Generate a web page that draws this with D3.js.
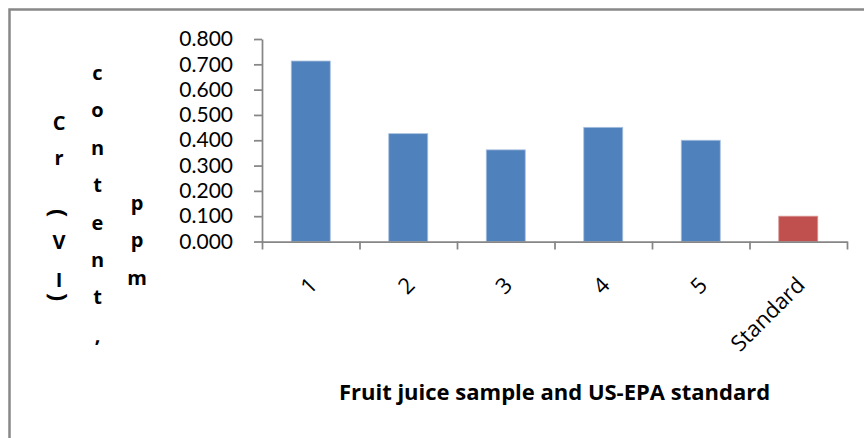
<!DOCTYPE html>
<html>
<head>
<meta charset="utf-8">
<script src="https://cdn.jsdelivr.net/npm/d3@7"></script>
<style>
  body { margin: 0; background: #fff; }
  svg { display: block; font-family: "Open Sans", sans-serif; }
</style>
</head>
<body>
<svg id="chart"></svg>
<script>
// data
const categories = ['1', '2', '3', '4', '5', 'Standard'];
const values = [0.713, 0.426, 0.362, 0.451, 0.400, 0.100];
const yTicks = [0, 0.1, 0.2, 0.3, 0.4, 0.5, 0.6, 0.7, 0.8];
const yTitleLines = ['Cr(VI)', 'content,', 'ppm'];
const xTitle = 'Fruit juice sample and US-EPA standard';

const width = 864;
const height = 438;
const plot = {left: 262, right: 847, top: 39, bottom: 241.5};
const axisColor = '#868686';

const svg = d3.select('#chart')
    .attr('width', width)
    .attr('height', height);

// chart frame (right and bottom edges fall outside the picture)
svg.append('rect')
    .attr('x', 9.5)
    .attr('y', 9.5)
    .attr('width', 900)
    .attr('height', 500)
    .attr('fill', 'none')
    .attr('stroke', '#888')
    .attr('stroke-width', 2.5);

// scales
const x = d3.scaleBand()
    .domain(categories)
    .range([plot.left, plot.right])
    .paddingInner(0.6)
    .paddingOuter(0.3);

const y = d3.scaleLinear()
    .domain([0, 0.8])
    .range([plot.bottom, plot.top]);

// bars
svg.selectAll('rect.bar')
    .data(categories)
    .enter()
    .append('rect')
    .attr('class', 'bar')
    .attr('x', d => x(d))
    .attr('y', (d, i) => y(values[i]))
    .attr('width', x.bandwidth())
    .attr('height', (d, i) => y(0) - y(values[i]))
    .attr('fill', d => d === 'Standard' ? '#C0504D' : '#4F81BD')
    .attr('stroke', d => d === 'Standard' ? '#d99694' : '#a7c0de')
    .attr('stroke-width', 0.8);

// Y axis
const yAxis = svg.append('g')
    .attr('transform', 'translate(' + plot.left + ',0)')
    .call(d3.axisLeft(y)
        .tickValues(yTicks)
        .tickFormat(d3.format('.3f'))
        .tickSize(8)
        .tickSizeOuter(0)
        .tickPadding(21));
yAxis.selectAll('path, line')
    .attr('stroke', axisColor)
    .attr('stroke-width', 1.75);
yAxis.selectAll('text')
    .attr('fill', '#000')
    .style('font-size', '21px')
    .style('font-family', 'Lato, sans-serif');

// X axis: ticks sit on the category boundaries
const xEdges = d3.scaleLinear()
    .domain([0, categories.length])
    .range([plot.left, plot.right]);
const xAxis = svg.append('g')
    .attr('transform', 'translate(0,' + plot.bottom + ')')
    .call(d3.axisBottom(xEdges)
        .tickValues(d3.range(categories.length + 1))
        .tickFormat('')
        .tickSize(8)
        .tickSizeOuter(0));
xAxis.selectAll('path, line')
    .attr('stroke', axisColor)
    .attr('stroke-width', 1.75);

// rotated category labels
const xLabels = svg.append('g')
    .attr('transform', 'translate(0,' + plot.bottom + ')')
    .call(d3.axisBottom(x).tickSize(0).tickPadding(0));
xLabels.select('.domain').remove();
xLabels.selectAll('text')
    .attr('fill', '#000')
    .attr('y', 0)
    .attr('dy', 0)
    .attr('transform', 'translate(8,45) rotate(-45)')
    .style('text-anchor', 'end')
    .style('font-size', '22px')
    .style('font-family', '"Open Sans", sans-serif');

// X title
svg.append('text')
    .attr('x', (plot.left + plot.right) / 2)
    .attr('y', 400)
    .attr('text-anchor', 'middle')
    .style('font-size', '22px')
    .style('font-weight', 'bold')
    .text(xTitle);

// Y title: stacked letters in three columns, brackets turned sideways
const colX = [59, 97.5, 137];
const colStart = [130, 80, 210];
const colStep = 37.4;
const col1Baselines = [130, 165, 213, 249, 287, 297];

const yTitle = svg.append('g')
    .style('font-size', '20px')
    .style('font-weight', 'bold');

yTitleLines.forEach(function(line, c) {
  line.split('').forEach(function(ch, i) {
    const by = c === 0 ? col1Baselines[i] : colStart[c] + i * colStep;
    if (ch === '(' || ch === ')') {
      // turned a quarter clockwise about its own centre
      yTitle.append('text')
          .attr('x', colX[c])
          .attr('y', by)
          .attr('text-anchor', 'middle')
          .attr('dominant-baseline', 'central')
          .attr('transform', 'rotate(90,' + colX[c] + ',' + by + ')')
          .style('font-size', '24px')
          .style('font-weight', 'bold')
          .text(ch);
    } else {
      yTitle.append('text')
          .attr('x', colX[c])
          .attr('y', by)
          .attr('text-anchor', 'middle')
          .text(ch);
    }
  });
});
</script>
</body>
</html>
